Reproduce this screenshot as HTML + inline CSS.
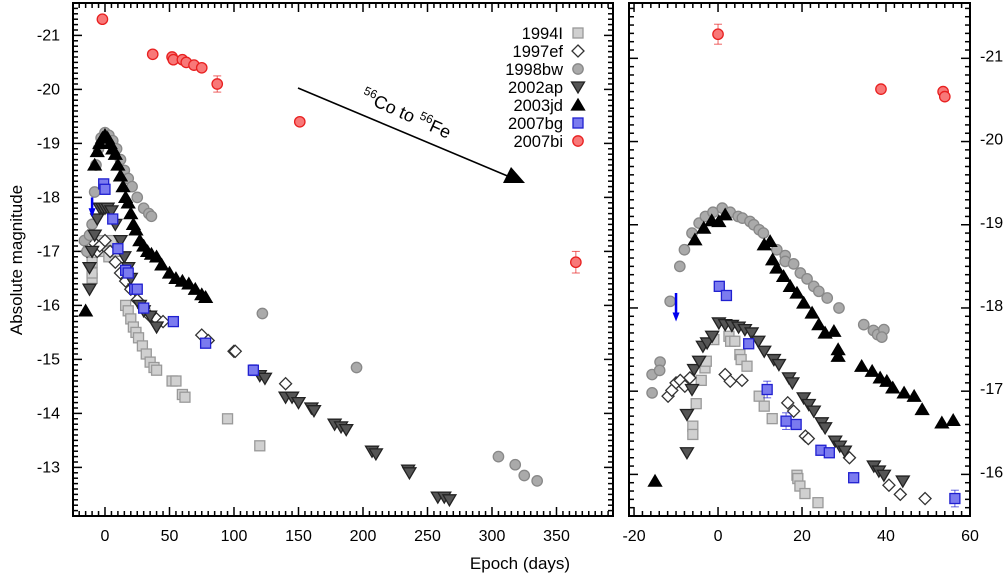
<!DOCTYPE html>
<html><head><meta charset="utf-8"><style>
body{margin:0;background:#fff;}
svg text{font-family:"Liberation Sans",sans-serif;}
</style></head><body>
<svg id="chart" width="1007" height="574" viewBox="0 0 1007 574" xmlns="http://www.w3.org/2000/svg"></svg>
<script>
// ---- LEFT PANEL DATA (epoch days, absolute mag) ----
const L_1994I_x=[-10,-10,-10,-5,-3,0,3,5,8,16,18,20,22,24,26,29,32,35,38,40,52,55,60,62,95,120];
const L_1994I_y=[-16.5,-16.6,-16.8,-17.2,-17.0,-17.0,-16.9,-17.2,-17.0,-16.0,-15.9,-15.75,-15.6,-15.5,-15.4,-15.25,-15.1,-14.95,-14.85,-14.8,-14.6,-14.6,-14.35,-14.3,-13.9,-13.4];
const L_1997ef_x=[-14,-12,-10,-8,-6,-4,0,4,8,12,16,20,25,30,35,40,45,75,80,100,101,140];
const L_1997ef_y=[-17.0,-17.1,-17.2,-17.15,-17.0,-17.1,-17.2,-17.0,-16.8,-16.6,-16.45,-16.3,-16.1,-15.95,-15.8,-15.75,-15.7,-15.45,-15.35,-15.15,-15.15,-14.55];
const L_1998bw_x=[-16,-14,-12,-10,-8,-7,-5,-3,0,3,6,9,12,15,18,21,25,30,34,36,122,195,305,318,325,335];
const L_1998bw_y=[-17.2,-17.0,-17.3,-17.5,-18.1,-18.6,-18.9,-19.1,-19.2,-19.15,-19.05,-18.9,-18.7,-18.5,-18.35,-18.2,-18.0,-17.8,-17.7,-17.65,-15.85,-14.85,-13.2,-13.05,-12.85,-12.75];
const L_2002ap_x=[-12,-12,-10,-8,-6,-4,-2,0,2,5,8,12,15,18,20,23,27,30,35,40,120,124,140,145,150,160,162,178,183,187,207,210,235,236,258,263,267];
const L_2002ap_y=[-16.3,-16.7,-17.0,-17.3,-17.6,-17.8,-17.8,-17.8,-17.8,-17.75,-17.5,-17.2,-16.9,-16.7,-16.5,-16.3,-16.0,-15.9,-15.8,-15.6,-14.7,-14.65,-14.3,-14.3,-14.2,-14.1,-14.05,-13.8,-13.75,-13.7,-13.3,-13.25,-12.95,-12.9,-12.45,-12.45,-12.4];
const L_2003jd_x=[-15,-8,-6,-4,-2,0,2,4,6,8,10,12,14,16,18,20,22,24,27,30,33,36,40,44,50,55,60,65,70,75,78];
const L_2003jd_y=[-15.9,-18.6,-18.85,-19.0,-19.1,-19.15,-19.1,-19.0,-18.9,-18.8,-18.6,-18.4,-18.2,-18.0,-17.9,-17.7,-17.5,-17.4,-17.2,-17.1,-17.0,-16.95,-16.9,-16.75,-16.6,-16.5,-16.45,-16.4,-16.3,-16.2,-16.15];
const L_2007bg_x=[-1,0,6,10,16,18,23,25,30,53,78,115];
const L_2007bg_y=[-18.25,-18.15,-17.6,-17.05,-16.65,-16.6,-16.3,-16.3,-15.95,-15.7,-15.3,-14.8];
const L_2007bg_e=[0,0,0,0,0,0,0,0,0,0,0,0.1];
const L_2007bi_x=[-2,37,52,53,60,63,69,75,87,151,365];
const L_2007bi_y=[-21.3,-20.65,-20.6,-20.55,-20.55,-20.5,-20.45,-20.4,-20.1,-19.4,-16.8];
const L_2007bi_e=[0,0,0,0,0,0,0,0,0.15,0,0.2];
const L_xticks=[0,50,100,150,200,250,300,350];
const L_yticks=[-21,-20,-19,-18,-17,-16,-15,-14,-13];
// ---- RIGHT PANEL DATA ----
const R_1994I_x=[-6,-6,-5.2,-4,-3.1,-2.8,-1,2.6,3,4,5.2,5.5,6.9,9.8,11,12.9,18.8,19,19.5,20.7,23.8];
const R_1994I_y=[-16.58,-16.48,-16.85,-17.13,-17.28,-17.36,-17.62,-17.66,-17.6,-17.6,-17.44,-17.38,-17.3,-16.94,-16.82,-16.67,-15.99,-15.95,-15.86,-15.77,-15.66];
const R_1997ef_x=[-11.9,-11,-10,-9,-7.9,-6.7,1.7,2.9,5.7,16.6,18,20.8,21.5,31.3,40.7,43.4,49.3];
const R_1997ef_y=[-16.94,-17.01,-17.1,-17.13,-17.06,-17.16,-17.2,-17.12,-17.13,-16.86,-16.76,-16.46,-16.43,-16.2,-15.87,-15.76,-15.71];
const R_1998bw_x=[-15.7,-15.7,-13.8,-13.9,-11.4,-9.1,-8,-6.2,-4.5,-3,-1.2,1,2.9,4.8,5.8,7.6,8.5,9.8,10.8,14,16,16,18,19.6,21.2,22.8,24,26,28.8,34.7,37,38,39.5,39];
const R_1998bw_y=[-16.98,-17.2,-17.35,-17.25,-18.08,-18.5,-18.7,-18.9,-19.02,-19.1,-19.15,-19.2,-19.15,-19.1,-19.08,-19.04,-19.0,-18.94,-18.9,-18.7,-18.63,-18.56,-18.53,-18.42,-18.35,-18.26,-18.2,-18.12,-18.0,-17.8,-17.73,-17.68,-17.74,-17.65];
const R_2002ap_x=[-7.4,-7.4,-6.2,-5.7,-4.5,-3.6,-2.6,-1.4,0.2,1.7,3.3,4.9,6.4,8,9.6,11,13.3,14.5,16.9,17.7,20.4,21.6,22.8,24.7,25.5,27.9,29,30.2,37.1,38.3,39.5,44];
const R_2002ap_y=[-16.26,-16.72,-17.02,-17.26,-17.36,-17.54,-17.58,-17.66,-17.82,-17.8,-17.79,-17.77,-17.74,-17.7,-17.6,-17.48,-17.38,-17.32,-17.16,-17.1,-16.92,-16.84,-16.76,-16.62,-16.56,-16.4,-16.34,-16.28,-16.1,-16.04,-15.99,-15.92];
const R_2003jd_x=[-15,-5.5,-3.4,-1.5,0.2,1.7,11,12.4,13,14,15.6,17.2,18.8,20.4,22.4,24,25.5,27.6,28.6,28.6,34.2,36.7,38.6,40.2,41.6,44.3,46.7,48.6,53.3,56];
const R_2003jd_y=[-15.92,-18.82,-18.96,-19.05,-19.04,-19.12,-18.76,-18.8,-18.58,-18.48,-18.38,-18.26,-18.18,-18.06,-17.94,-17.8,-17.7,-17.72,-17.5,-17.42,-17.3,-17.24,-17.16,-17.12,-17.04,-16.98,-16.94,-16.78,-16.62,-16.65];
const R_2007bg_x=[0.3,2,7.3,11.7,16.2,18.6,24.5,26.5,32.3,56.4];
const R_2007bg_y=[-18.26,-18.15,-17.57,-17.02,-16.64,-16.6,-16.29,-16.26,-15.96,-15.71];
const R_2007bg_e=[0,0,0,0.1,0.1,0,0.05,0,0,0.1];
const R_2007bi_x=[0,38.8,53.6,54];
const R_2007bi_y=[-21.29,-20.63,-20.6,-20.54];
const R_2007bi_e=[0.12,0,0,0];
const R_xticks=[-20,0,20,40,60];
const R_yticks=[-21,-20,-19,-18,-17,-16];
const legendNames=["1994I","1997ef","1998bw","2002ap","2003jd","2007bg","2007bi"];

const NS="http://www.w3.org/2000/svg";
const svg=document.getElementById('chart');
function mk(tag,attrs,parent){const e=document.createElementNS(NS,tag);for(const k in attrs)e.setAttribute(k,attrs[k]);(parent||svg).appendChild(e);return e;}

const styles={
 "1994I":{shape:"sq",fill:"#d0d0d0",stroke:"#999"},
 "1997ef":{shape:"dia",fill:"#fff",stroke:"#333"},
 "1998bw":{shape:"circ",fill:"#aaa",stroke:"#888"},
 "2002ap":{shape:"dtri",fill:"#555",stroke:"#222"},
 "2003jd":{shape:"tri",fill:"#000",stroke:"#000"},
 "2007bg":{shape:"sq",fill:"#7b7bef",stroke:"#2020d0"},
 "2007bi":{shape:"circ",fill:"#f87878",stroke:"#e82020"}
};
function marker(g,name,x,y){
 const s=styles[name];let e;
 if(s.shape==="sq") e=mk('rect',{x:x-5,y:y-5,width:10,height:10},g);
 else if(s.shape==="circ") e=mk('circle',{cx:x,cy:y,r:5.2},g);
 else if(s.shape==="dia") e=mk('polygon',{points:`${x},${y-6} ${x+6},${y} ${x},${y+6} ${x-6},${y}`},g);
 else if(s.shape==="tri") e=mk('polygon',{points:`${x},${y-6} ${x+6.5},${y+5} ${x-6.5},${y+5}`},g);
 else e=mk('polygon',{points:`${x-6.5},${y-5} ${x+6.5},${y-5} ${x},${y+6}`},g);
 e.setAttribute('fill',s.fill);e.setAttribute('stroke',s.stroke);e.setAttribute('stroke-width','1.3');
 
 
 return e;
}
function panel(p){
 const {x0,x1,y0,y1,dmin,dmax,mmin,mmax}=p;
 const X=d=>x0+(d-dmin)/(dmax-dmin)*(x1-x0);
 const Y=m=>y0+(m-mmin)/(mmax-mmin)*(y1-y0);
 const g=mk('g',{});
 
 
 for(let d=Math.ceil(dmin/p.xminor)*p.xminor;d<=dmax;d+=p.xminor){
  const maj=Math.abs(d/p.xmajor-Math.round(d/p.xmajor))<1e-6;const L=maj?9:5;
  mk('line',{x1:X(d),x2:X(d),y1:y1,y2:y1-L,stroke:'#000','stroke-width':1.5},g);
  mk('line',{x1:X(d),x2:X(d),y1:y0,y2:y0+L,stroke:'#000','stroke-width':1.5},g);
 }
 for(let k=Math.ceil(mmin*10);k<=mmax*10;k++){
  const m=k/10;const maj=k%10===0;const L=maj?9:5;
  mk('line',{x1:x0,x2:x0+L,y1:Y(m),y2:Y(m),stroke:'#000','stroke-width':1.5},g);
  mk('line',{x1:x1,x2:x1-L,y1:Y(m),y2:Y(m),stroke:'#000','stroke-width':1.5},g);
 }
 const fr=mk('rect',{x:x0,y:y0,width:x1-x0,height:y1-y0,fill:'none',stroke:'#000','stroke-width':2},g);
 
 
 p.xt.forEach(d=>{const t=mk('text',{x:X(d),y:y1+25,'font-size':16,'text-anchor':'middle'},g);t.textContent=d;
  });
 p.yt.forEach(m=>{const t=mk('text',{x:p.ylabX,y:Y(m)+5+p.yoff,'font-size':16,'text-anchor':p.yanchor},g);t.textContent=m;
  });
 p.series.forEach(s=>{
  const sg=mk('g',{},g);
  
  
  s.x.forEach((d,i)=>{
   const e=s.e?s.e[i]:0;
   if(e>0){const c=styles[s.n].stroke;const yt=Y(s.y[i]-e),yb=Y(s.y[i]+e),xx=X(d);
    mk('line',{x1:xx,x2:xx,y1:yt,y2:yb,stroke:c,'stroke-width':1,opacity:0.7},sg);
    mk('line',{x1:xx-4,x2:xx+4,y1:yt,y2:yt,stroke:c,'stroke-width':1,opacity:0.7},sg);
    mk('line',{x1:xx-4,x2:xx+4,y1:yb,y2:yb,stroke:c,'stroke-width':1,opacity:0.7},sg);}
   marker(sg,s.n,X(d),Y(s.y[i]));
  });
 });
 const ax=X(-10),ay1=Y(p.arrow[0]),ay2=Y(p.arrow[1]);
 const ar=mk('g',{},g);
 
 
 mk('line',{x1:ax,x2:ax,y1:ay1,y2:ay2-6,stroke:'#0000ee','stroke-width':2.5},ar);
 mk('polygon',{points:`${ax-3.5},${ay2-8} ${ax+3.5},${ay2-8} ${ax},${ay2+1}`,fill:'#0000ee'},ar);
 return {X,Y};
}
panel({name:'left-panel',x0:73,x1:613,y0:3,y1:516,dmin:-24.8,dmax:393.8,mmin:-21.6,mmax:-12.1,xminor:5,xmajor:50,
 xt:L_xticks,yt:L_yticks,ylabX:60,yanchor:'end',yoff:0,arrow:[-18.0,-17.65],
 series:[{n:"1994I",x:L_1994I_x,y:L_1994I_y},{n:"1997ef",x:L_1997ef_x,y:L_1997ef_y},{n:"1998bw",x:L_1998bw_x,y:L_1998bw_y},
 {n:"2002ap",x:L_2002ap_x,y:L_2002ap_y},{n:"2003jd",x:L_2003jd_x,y:L_2003jd_y},{n:"2007bg",x:L_2007bg_x,y:L_2007bg_y,e:L_2007bg_e},
 {n:"2007bi",x:L_2007bi_x,y:L_2007bi_y,e:L_2007bi_e}]});
panel({name:'right-panel',x0:629,x1:970,y0:3,y1:516,dmin:-21.2,dmax:60,mmin:-21.665,mmax:-15.5,xminor:2,xmajor:20,
 xt:R_xticks,yt:R_yticks,ylabX:980,yanchor:'start',yoff:-2,arrow:[-18.18,-17.85],
 series:[{n:"1994I",x:R_1994I_x,y:R_1994I_y},{n:"1997ef",x:R_1997ef_x,y:R_1997ef_y},{n:"1998bw",x:R_1998bw_x,y:R_1998bw_y},
 {n:"2002ap",x:R_2002ap_x,y:R_2002ap_y},{n:"2003jd",x:R_2003jd_x,y:R_2003jd_y},{n:"2007bg",x:R_2007bg_x,y:R_2007bg_y,e:R_2007bg_e},
 {n:"2007bi",x:R_2007bi_x,y:R_2007bi_y,e:R_2007bi_e}]});
const lg=mk('g',{});


legendNames.forEach((n,i)=>{
 const y=33+i*18;
 const t=mk('text',{x:563,y:y+6,'font-size':16.5,'text-anchor':'end'},lg);t.textContent=n;
 
 
 marker(lg,n,578,y);
});
</script>
<svg style="position:absolute;left:0;top:0" width="1007" height="574">
 <g>
  <line x1="298" y1="88" x2="510" y2="177" stroke="#000" stroke-width="1.6"/>
  <polygon points="525,183 503,183 511,167" fill="#000"/>
 </g>
 <text x="0" y="0" font-family="Liberation Sans, sans-serif" font-size="18" transform="translate(360,100) rotate(24)"><tspan font-size="12" dy="-7">56</tspan><tspan dy="7">Co to </tspan><tspan font-size="12" dy="-7">56</tspan><tspan dy="7">Fe</tspan></text>
 <text font-family="Liberation Sans, sans-serif" font-size="17" text-anchor="middle" transform="translate(22,260) rotate(-90)">Absolute magnitude</text>
 <text font-family="Liberation Sans, sans-serif" font-size="17" text-anchor="middle" x="520" y="569">Epoch (days)</text>
</svg>
</body></html>
